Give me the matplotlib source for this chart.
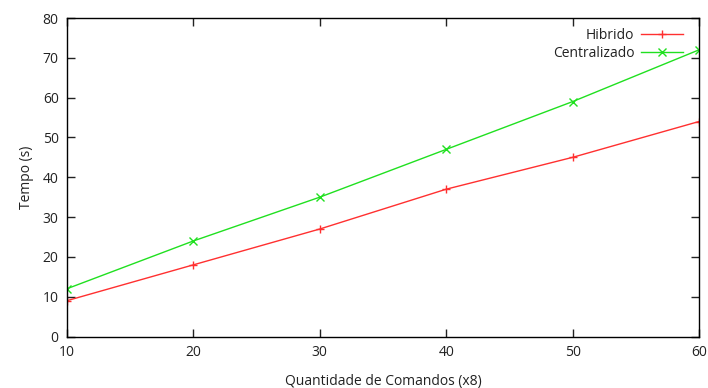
import matplotlib
matplotlib.use("Agg")
import matplotlib.pyplot as plt

x = [10, 20, 30, 40, 50, 60]
hibrido = [9, 18, 27, 37, 45, 54]
centralizado = [12, 24, 35, 47, 59, 72]
xticks = [10, 20, 30, 40, 50, 60]
yticks = [0, 10, 20, 30, 40, 50, 60, 70, 80]

plt.rcParams['font.family'] = ['Open Sans', 'DejaVu Sans']
fig = plt.figure(figsize=(7.08, 3.88), dpi=100)
ax = fig.add_axes([67/708, (388-336.5)/388, (699-67)/708, (336.5-18)/388])

ax.plot(x, hibrido, color='#ff3030', marker='+', markersize=6, markeredgewidth=1, linewidth=1, label='Hibrido')
ax.plot(x, centralizado, color='#20e020', marker='x', markersize=5.5, markeredgewidth=1, linewidth=1, label='Centralizado')

ax.set_xlim(10, 60)
ax.set_ylim(0, 80)
ax.set_xticks(xticks)
ax.set_yticks(yticks)
ax.tick_params(direction='in', top=True, right=True, length=6, width=1, labelsize=10, colors='#222222', pad=6)
for s in ax.spines.values():
    s.set_linewidth(1)
ax.set_xlabel('Quantidade de Comandos (x8)', fontsize=10, labelpad=10, color='#222222')
ax.set_ylabel('Tempo (s)', fontsize=10, labelpad=6, color='#222222')

leg = ax.legend(loc='upper right', frameon=False, markerfirst=False, fontsize=10,
                handlelength=3.0, handletextpad=0.5, borderaxespad=0.3, labelspacing=0.25,
                bbox_to_anchor=(0.99, 1.0))
for t in leg.get_texts():
    t.set_color('#222222')

fig.savefig('out.png', dpi=100)
